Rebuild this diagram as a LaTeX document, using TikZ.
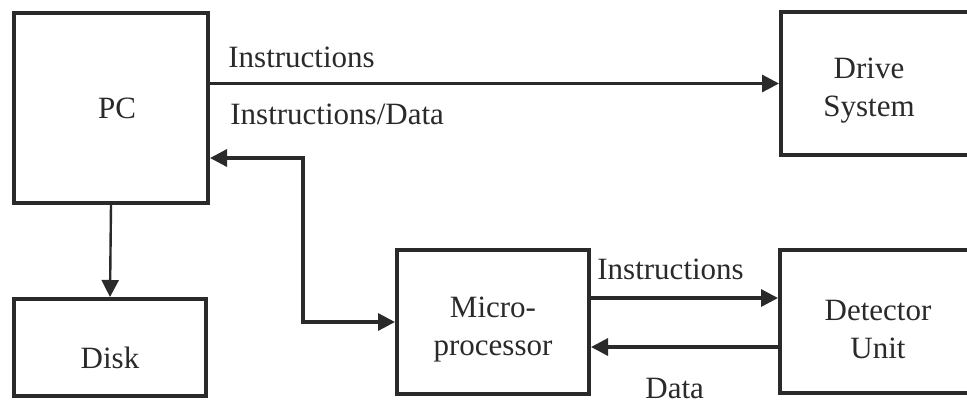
\documentclass[tikz,border=0pt]{standalone}
\usepackage{fontspec}
\setmainfont{Liberation Serif}
\usetikzlibrary{arrows.meta,fit,calc}
\definecolor{ink}{HTML}{2A2A2A}
\tikzset{
  box/.style={draw=ink, line width=2pt, inner sep=0pt, rectangle},
  lbl/.style={font=\fontsize{15.5}{19}\selectfont, text=ink, inner sep=0pt},
  txt/.style={lbl, align=center},
  tip/.style={Triangle[length=8.5pt,width=8.5pt]},
  conn/.style={draw=ink, line width=1.6pt, -{Triangle[length=8.5pt,width=8.5pt]}},
  thinconn/.style={conn, line width=1.2pt},
  conn2/.style={draw=ink, line width=1.6pt, {Triangle[length=8.5pt,width=8.5pt]}-{Triangle[length=8.5pt,width=8.5pt]}}
}
\begin{document}
\begin{tikzpicture}[x=0.5pt,y=-0.5pt]
\clip (0,0) rectangle (967,403);
\useasboundingbox (0,0) rectangle (967,403);
\fill[white] (0,0) rectangle (967,403);

% blocks
\node[box, fit={(14,13)(208,203)}] (pc) {};
\node[box, fit={(14,299)(206,396)}] (disk) {};
\node[box, fit={(781,12)(990,155)}] (drive) {};
\node[box, fit={(397,250)(589,394)}] (micro) {};
\node[box, fit={(780,250)(990,393)}] (det) {};

% block texts
\node[txt] (pctxt) at (117,108) {PC};
\node[txt] (disktxt) at (110,358) {Disk};
\node[txt] (drivetxt) at (869,91) {Drive\\System};
\node[txt] (microtxt) at (493,330) {Micro-\\processor};
\node[txt] (dettxt) at (878,329) {Detector\\Unit};

% connector labels
\node[lbl, anchor=base west] (l1) at (228,67) {Instructions};
\node[lbl, anchor=base west] (l2) at (230,124) {Instructions/Data};
\node[lbl, anchor=base west] (l3) at (597,279) {Instructions};
\node[lbl, anchor=base west] (l4) at (645,398) {Data};

% connectors
\coordinate (bend) at (303,158);
\coordinate (upper) at (600,298);
\coordinate (lower) at (600,347);
\draw[conn] (pc.east |- drive.west) -- (drive.west);
\draw[thinconn] (pc.south) -- (disk.north);
\draw[conn2] (pc.east |- bend) -- (bend) |- (micro.west);
\draw[conn] (micro.east |- upper) -- (det.west |- upper);
\draw[conn] (det.west |- lower) -- (micro.east |- lower);
\end{tikzpicture}
\end{document}
